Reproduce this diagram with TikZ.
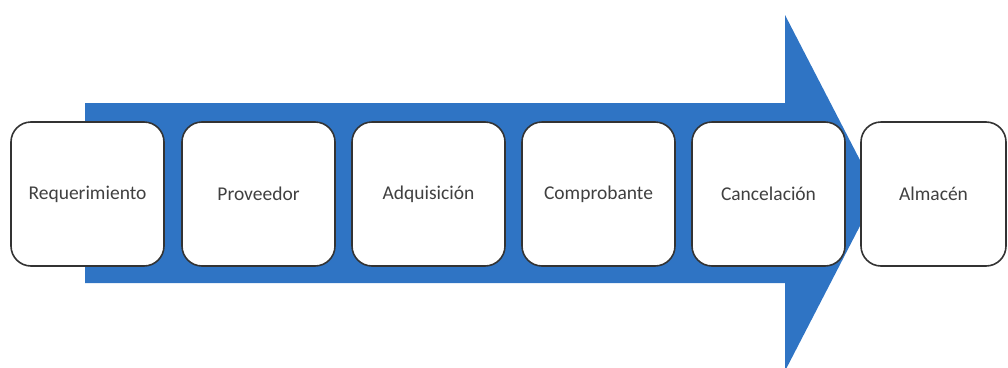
\documentclass[tikz,border=0pt]{standalone}
\usepackage{fontspec}
\setmainfont{Carlito}
\definecolor{arrowblue}{HTML}{2F74C4}
\definecolor{boxline}{HTML}{333333}
\begin{document}
\begin{tikzpicture}[x=1pt,y=-1pt,
  stepbox/.style={draw=boxline,line width=1.6pt,fill=white,rounded corners=20pt,
    minimum width=153pt,minimum height=144pt,inner sep=0pt,font=\fontsize{19.5}{22}\selectfont,text=black!75}]
\useasboundingbox (0,0) rectangle (1008,367);
\fill[arrowblue] (85,103) -- (785,103) -- (785,15) -- (877,193) -- (785,371) -- (785,283) -- (85,283) -- cycle;
\node[stepbox] (r) at (87.5,194) {Requerimiento};
\node[stepbox] (p) at (258.5,194) {Proveedor};
\node[stepbox] (a) at (428.5,194) {Adquisición};
\node[stepbox] (c) at (598.5,194) {Comprobante};
\node[stepbox] (k) at (768.5,194) {Cancelación};
\node[stepbox,minimum width=145pt] (m) at (933.5,194) {Almacén};
\end{tikzpicture}
\end{document}
